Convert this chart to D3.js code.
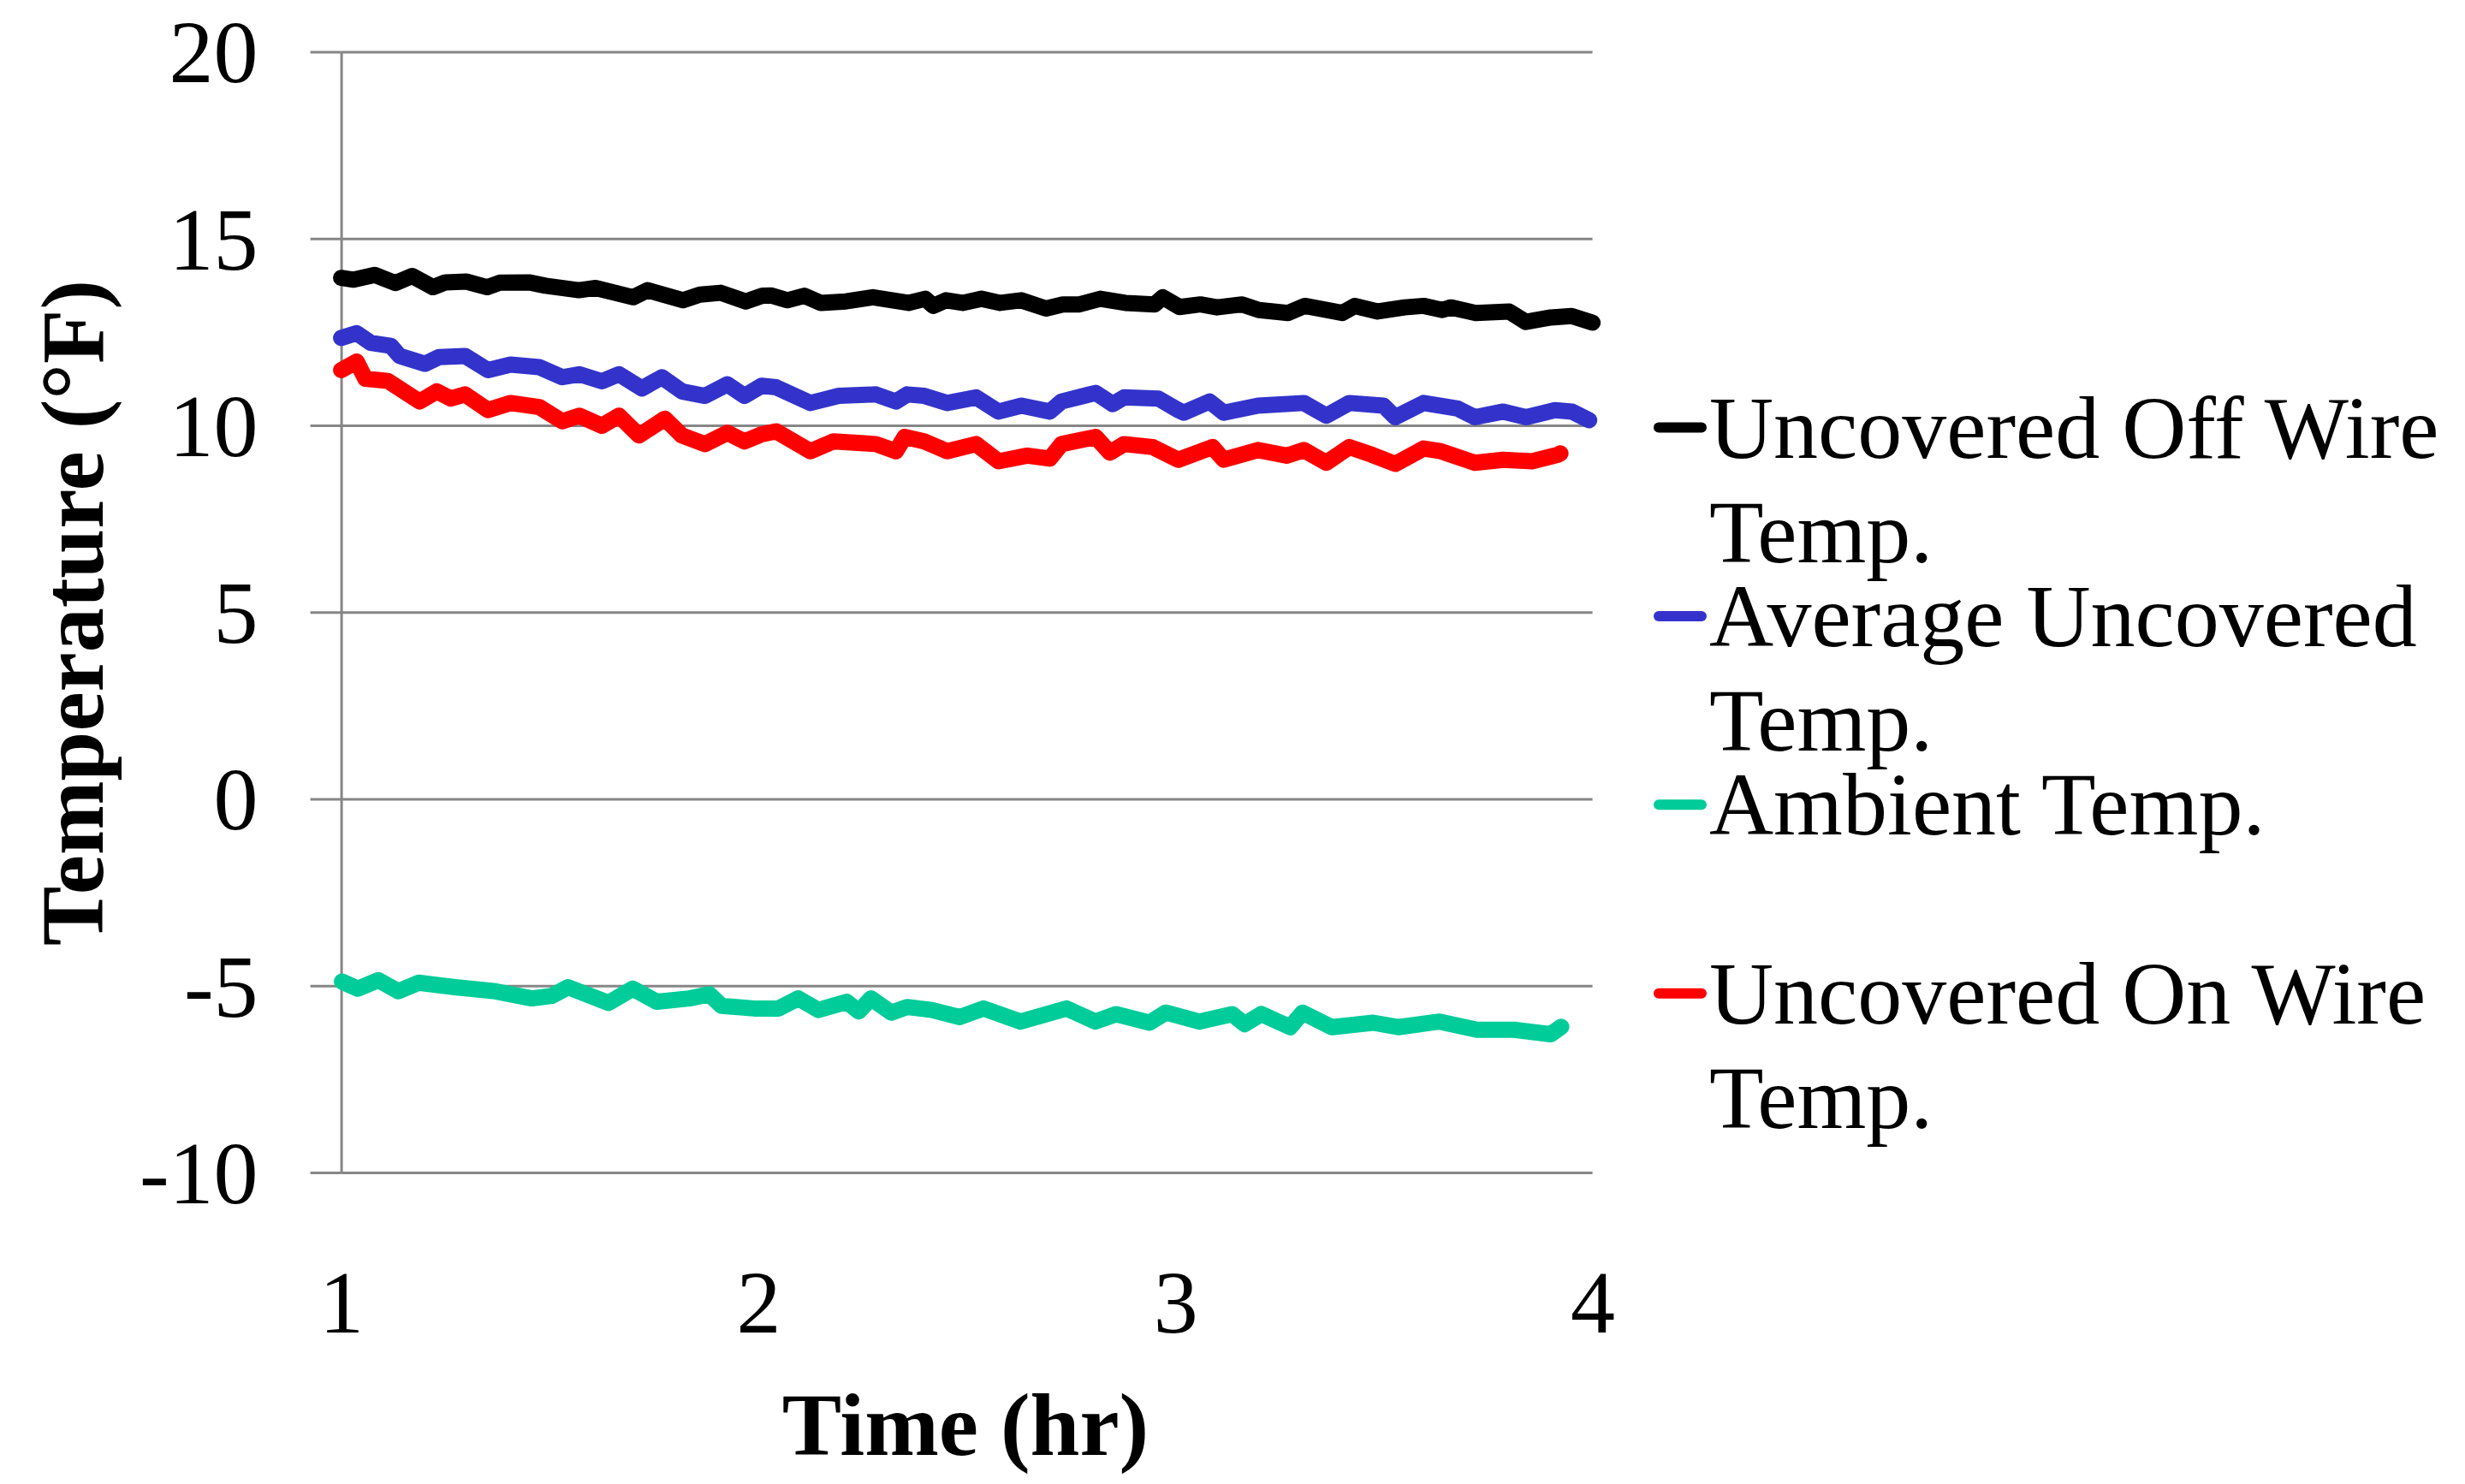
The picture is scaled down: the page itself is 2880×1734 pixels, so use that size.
<!DOCTYPE html>
<html><head><meta charset="utf-8">
<script src="https://cdn.jsdelivr.net/npm/d3@7"></script>
<style>
html,body{margin:0;padding:0;background:#fff;}
svg{display:block;font-family:"Liberation Serif","Times New Roman",serif;}
</style>
</head><body>
<svg id="chart" width="2880" height="1734"></svg>
<script>
// ---------- data ----------
const xTicks = [1, 2, 3, 4];
const yTicks = [-10, -5, 0, 5, 10, 15, 20];
const seriesNames = ["Uncovered Off Wire Temp.", "Average Uncovered Temp.", "Ambient Temp.", "Uncovered On Wire Temp."];
const seriesColors = ["#000000", "#3333CC", "#00CC99", "#FF0000"];
const legendLines = [["Uncovered Off Wire", "Temp."], ["Average Uncovered", "Temp."], ["Ambient Temp."], ["Uncovered On Wire", "Temp."]];

const offWireTime = [1.00,1.03,1.08,1.13,1.17,1.22,1.25,1.30,1.35,1.38,1.45,1.49,1.57,1.61,1.70,1.735,1.82,1.86,1.91,1.97,2.01,
  2.03,2.07,2.11,2.15,2.21,2.275,2.36,2.40,2.42,2.45,2.49,2.535,2.58,2.63,2.69,2.73,2.77,2.82,2.88,2.95,2.97,3.01,
  3.06,3.10,3.16,3.20,3.27,3.31,3.40,3.43,3.485,3.55,3.595,3.64,3.66,3.72,3.80,3.84,3.90,3.95,4.00];
const offWireTemp = [13.95,13.90,14.03,13.81,14.00,13.70,13.83,13.85,13.70,13.82,13.83,13.74,13.62,13.68,13.43,13.62,13.35,13.50,13.55,13.32,13.47,
  13.48,13.35,13.47,13.28,13.32,13.43,13.28,13.39,13.20,13.35,13.28,13.39,13.28,13.35,13.13,13.24,13.24,13.39,13.28,13.24,13.43,13.17,
  13.24,13.16,13.24,13.09,13.01,13.20,13.01,13.20,13.05,13.16,13.20,13.09,13.16,13.01,13.05,12.77,12.89,12.93,12.75];

const avgTime = [1.00,1.037,1.071,1.119,1.140,1.201,1.235,1.297,1.352,1.406,1.475,1.530,1.571,1.625,1.666,1.721,1.769,1.817,1.872,1.926,1.967,2.008,
  2.043,2.125,2.193,2.282,2.330,2.357,2.398,2.453,2.522,2.576,2.631,2.699,2.727,2.809,2.850,2.877,2.959,3.007,
  3.020,3.082,3.116,3.198,3.308,3.362,3.417,3.499,3.527,3.595,3.677,3.718,3.786,3.841,3.910,3.951,3.992];
const avgTemp = [12.34,12.47,12.21,12.13,11.86,11.65,11.83,11.86,11.48,11.63,11.56,11.29,11.37,11.18,11.37,10.99,11.29,10.91,10.79,11.10,10.79,11.06,
  11.02,10.60,10.79,10.83,10.64,10.83,10.79,10.60,10.75,10.37,10.53,10.37,10.64,10.87,10.57,10.75,10.72,10.41,
  10.34,10.64,10.34,10.53,10.60,10.26,10.60,10.53,10.22,10.60,10.45,10.22,10.37,10.22,10.41,10.37,10.14];

const ambientTime = [1.002,1.040,1.089,1.137,1.186,1.273,1.370,1.457,1.505,1.544,1.641,1.699,1.757,1.835,1.883,1.912,1.990,2.048,2.096,2.144,2.212,2.241,2.270,2.319,2.357,2.416,2.483,
  2.540,2.629,2.739,2.808,2.858,2.938,2.977,3.057,3.136,3.166,3.206,3.275,3.305,3.375,3.474,3.534,3.633,3.723,3.812,3.900,3.925];
const ambientTemp = [-4.89,-5.08,-4.85,-5.15,-4.92,-5.04,-5.15,-5.34,-5.27,-5.04,-5.46,-5.08,-5.43,-5.34,-5.23,-5.54,-5.61,-5.61,-5.34,-5.65,-5.43,-5.69,-5.34,-5.72,-5.57,-5.65,-5.84,
  -5.61,-5.96,-5.61,-5.96,-5.76,-5.99,-5.72,-5.96,-5.76,-6.03,-5.76,-6.11,-5.72,-6.11,-5.99,-6.11,-5.96,-6.18,-6.18,-6.30,-6.10];

const onWireTime = [1.00,1.037,1.058,1.112,1.188,1.229,1.263,1.297,1.352,1.406,1.475,1.530,1.571,1.625,1.666,1.714,1.776,1.817,1.872,1.926,1.967,2.008,
  2.043,2.125,2.180,2.282,2.330,2.351,2.398,2.453,2.522,2.576,2.645,2.699,2.727,2.809,2.843,2.877,2.946,3.007,
  3.089,3.116,3.198,3.267,3.308,3.362,3.417,3.472,3.527,3.595,3.636,3.718,3.786,3.855,3.916,3.923];
const onWireTemp = [11.48,11.71,11.25,11.19,10.64,10.91,10.72,10.83,10.41,10.60,10.49,10.11,10.26,9.99,10.26,9.73,10.18,9.73,9.50,9.80,9.57,9.76,
  9.84,9.31,9.57,9.50,9.31,9.69,9.57,9.31,9.50,9.04,9.19,9.11,9.50,9.69,9.27,9.50,9.42,9.08,
  9.42,9.08,9.34,9.19,9.34,9.00,9.42,9.21,8.97,9.38,9.31,9.00,9.08,9.04,9.21,9.25];

// ---------- chart ----------
const FONT = 104;
const svg = d3.select("#chart");
svg.append("rect").attr("width", 2880).attr("height", 1734).attr("fill", "#fff");

const x = d3.scaleLinear().domain([1, 4]).range([398.6, 1860.6]);
const y = d3.scaleLinear().domain([-10, 20]).range([1370, 60.6]);

// gridlines
svg.append("g")
  .attr("transform", `translate(${x(1)},0)`)
  .call(d3.axisLeft(y).tickValues(yTicks).tickSize(-(x(4) - x(1))).tickFormat(""))
  .call(g => g.select(".domain").remove())
  .call(g => g.selectAll("line").attr("stroke", "#868686").attr("stroke-width", 3));

// y axis
svg.append("g")
  .attr("transform", `translate(${x(1)},0)`)
  .call(d3.axisLeft(y).tickValues(yTicks).tickSize(36).tickSizeOuter(0).tickPadding(61).tickFormat(d => String(d)))
  .call(g => g.select(".domain").attr("stroke", "#868686").attr("stroke-width", 3))
  .call(g => g.selectAll(".tick line").attr("stroke", "#868686").attr("stroke-width", 3))
  .call(g => g.selectAll(".tick text").attr("font-size", FONT).attr("fill", "#000").attr("dy", "0.34em")
    .style("font-family", '"Liberation Serif","Times New Roman",serif'));

// x axis (labels only)
svg.append("g")
  .attr("transform", `translate(0,${y(-10)})`)
  .call(d3.axisBottom(x).tickValues(xTicks).tickSize(0).tickPadding(0).tickFormat(d3.format("d")))
  .call(g => g.select(".domain").remove())
  .call(g => g.selectAll(".tick text").attr("font-size", FONT).attr("fill", "#000").attr("dy", 0).attr("y", 187)
    .style("font-family", '"Liberation Serif","Times New Roman",serif'));

// axis titles
svg.append("text")
  .attr("transform", "translate(120,716) rotate(-90)")
  .attr("text-anchor", "middle").attr("font-size", FONT).attr("font-weight", "bold")
  .text("Temperature (°F)");
svg.append("text")
  .attr("x", 1128).attr("y", 1700)
  .attr("text-anchor", "middle").attr("font-size", FONT).attr("font-weight", "bold")
  .text("Time (hr)");

// series
const series = [
  d3.zip(offWireTime, offWireTemp),
  d3.zip(avgTime, avgTemp),
  d3.zip(ambientTime, ambientTemp),
  d3.zip(onWireTime, onWireTemp)
];
const line = d3.line().x(d => x(d[0])).y(d => y(d[1]));
svg.append("g").selectAll("path").data(series).join("path")
  .attr("d", line)
  .attr("fill", "none")
  .attr("stroke", (d, i) => seriesColors[i])
  .attr("stroke-width", 19)
  .attr("stroke-linejoin", "round")
  .attr("stroke-linecap", "round");

// legend
const lg = svg.append("g");
legendLines.forEach((lines, i) => {
  const base = 534.5 + i * 220.4;
  lg.append("line")
    .attr("x1", 1938).attr("x2", 1988)
    .attr("y1", base - 35).attr("y2", base - 35)
    .attr("stroke", seriesColors[i]).attr("stroke-width", 12).attr("stroke-linecap", "round");
  lines.forEach((t, j) => {
    lg.append("text")
      .attr("x", 1997).attr("y", base + j * 122.5)
      .attr("font-size", FONT).attr("fill", "#000")
      .text(t);
  });
});
</script>
</body></html>
